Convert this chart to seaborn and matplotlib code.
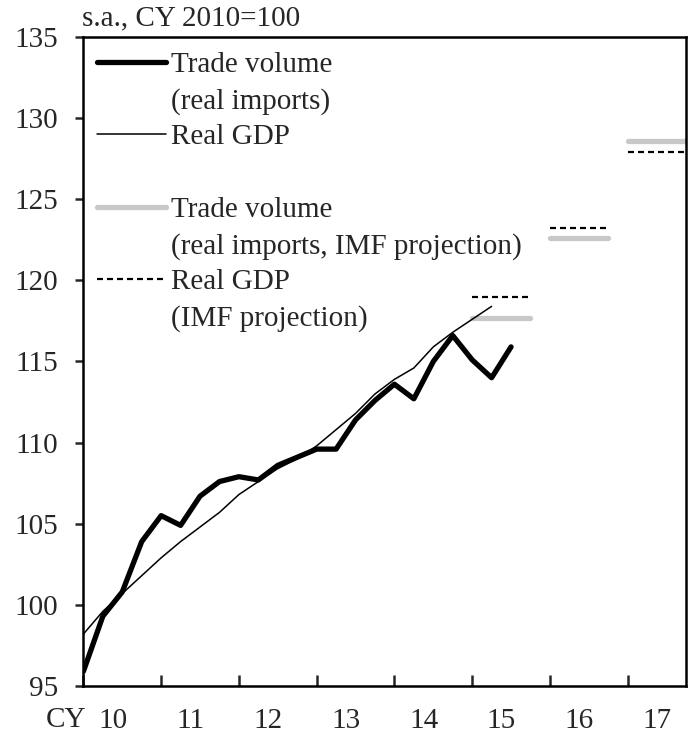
import numpy as np
import pandas as pd
import matplotlib
matplotlib.use("Agg")
import matplotlib.pyplot as plt
import seaborn as sns
from matplotlib.lines import Line2D
from matplotlib.ticker import FixedLocator, NullFormatter, FixedFormatter

# ---------------- data ----------------
quarters = ["2010Q1", "2010Q2", "2010Q3", "2010Q4",
            "2011Q1", "2011Q2", "2011Q3", "2011Q4",
            "2012Q1", "2012Q2", "2012Q3", "2012Q4",
            "2013Q1", "2013Q2", "2013Q3", "2013Q4",
            "2014Q1", "2014Q2", "2014Q3", "2014Q4",
            "2015Q1", "2015Q2", "2015Q3"]
trade_volume = [95.9, 99.3, 100.8, 103.9, 105.5, 104.9, 106.7, 107.6,
                107.9, 107.7, 108.6, 109.1, 109.6, 109.6, 111.4, 112.6,
                113.6, 112.7, 115.0, 116.6, 115.1, 114.0, 115.9]
real_gdp = [98.2, 99.6, 100.7, 101.8, 102.9, 103.9, 104.8, 105.7,
            106.8, 107.6, 108.4, 109.0, 109.8, 110.8, 111.8, 113.0,
            113.9, 114.6, 115.9, 116.8, 117.6, 118.4]
proj_years = [2015, 2016, 2017]
trade_proj = [117.7, 122.6, 128.6]
gdp_proj = [119.0, 123.2, 127.9]
year_labels = ["10", "11", "12", "13", "14", "15", "16", "17"]

# ---------------- frames ----------------
def q_index(q):
    return (int(q[:4]) - 2010) * 4 + int(q[-1]) - 1

df_trade = pd.DataFrame({"idx": [q_index(q) for q in quarters], "value": trade_volume})
df_gdp = pd.DataFrame({"idx": [q_index(q) for q in quarters[:len(real_gdp)]], "value": real_gdp})

sns.set_style("ticks")
plt.rcParams["font.family"] = ["Liberation Serif", "DejaVu Serif"]
FS = 21
plt.rcParams["font.size"] = FS

W, H = 688, 735
fig = plt.figure(figsize=(W / 100, H / 100), dpi=100)
L, R, T, B = 83.4, 686.0, 37.0, 686.0
ax = fig.add_axes([L / W, 1 - B / H, (R - L) / W, (B - T) / H])

# projections (drawn first)
for yr, tv, gv in zip(proj_years, trade_proj, gdp_proj):
    s = (yr - 2010) * 4
    seg = pd.DataFrame({"idx": [s, s + 3], "t": [tv, tv], "g": [gv, gv]})
    sns.lineplot(data=seg, x="idx", y="t", color="#c8c8c8", linewidth=3.8,
                 solid_capstyle="round", ax=ax, zorder=1)
    sns.lineplot(data=seg, x="idx", y="g", color="black", linewidth=1.6,
                 linestyle=(0, (2.7, 1.8)), ax=ax, zorder=2)

sns.lineplot(data=df_gdp, x="idx", y="value", color="black", linewidth=1.1, ax=ax, zorder=3)
sns.lineplot(data=df_trade, x="idx", y="value", color="black", linewidth=3.8, ax=ax, zorder=4)

ax.set_xlim(0, 31)
ax.set_ylim(95, 135)
ax.set_xlabel("")
ax.set_ylabel("")

# spines
for sp in ax.spines.values():
    sp.set_visible(True)
    sp.set_linewidth(1.8)
    sp.set_color("black")

# y ticks
ax.set_yticks(np.arange(95, 136, 5))
ax.tick_params(axis="y", direction="out", length=6, width=1.8, pad=12, labelsize=FS)

# x ticks: year boundaries (inward), labels centered in each year
ax.xaxis.set_major_locator(FixedLocator([4 * k for k in range(8)]))
ax.xaxis.set_major_formatter(NullFormatter())
ax.xaxis.set_minor_locator(FixedLocator([4 * k + 1.5 for k in range(8)]))
ax.xaxis.set_minor_formatter(FixedFormatter(year_labels))
ax.tick_params(axis="x", which="major", direction="in", length=8, width=1.8)
ax.tick_params(axis="x", which="minor", length=0, pad=16, labelsize=FS)

fig.text(66 / W, 1 - 720 / H, "CY", ha="center", va="center", fontsize=FS)
fig.text(82 / W, 1 - 18 / H, "s.a., CY 2010=100", ha="left", va="center", fontsize=FS)

# ---------------- legend (manual) ----------------
def ax_xy(px, py):
    return (px - L) / (R - L), (B - py) / (B - T)

legend_items = [
    (62, dict(color="black", linewidth=3.8), ["Trade volume", "(real imports)"]),
    (134, dict(color="black", linewidth=1.1), ["Real GDP"]),
    (207, dict(color="#c8c8c8", linewidth=3.8, solid_capstyle="round"),
     ["Trade volume", "(real imports, IMF projection)"]),
    (279, dict(color="black", linewidth=1.6, linestyle=(0, (2.7, 1.8))),
     ["Real GDP", "(IMF projection)"]),
]
for ly, style, lines in legend_items:
    x0, y0 = ax_xy(97, ly)
    x1, _ = ax_xy(166, ly)
    ax.add_line(Line2D([x0, x1], [y0, y0], transform=ax.transAxes, **style))
    for k, txt in enumerate(lines):
        tx, ty = ax_xy(171, ly + 3 + 37 * k)
        ax.text(tx, ty, txt, transform=ax.transAxes, ha="left", va="center", fontsize=FS)

fig.savefig("out.png", dpi=100)
